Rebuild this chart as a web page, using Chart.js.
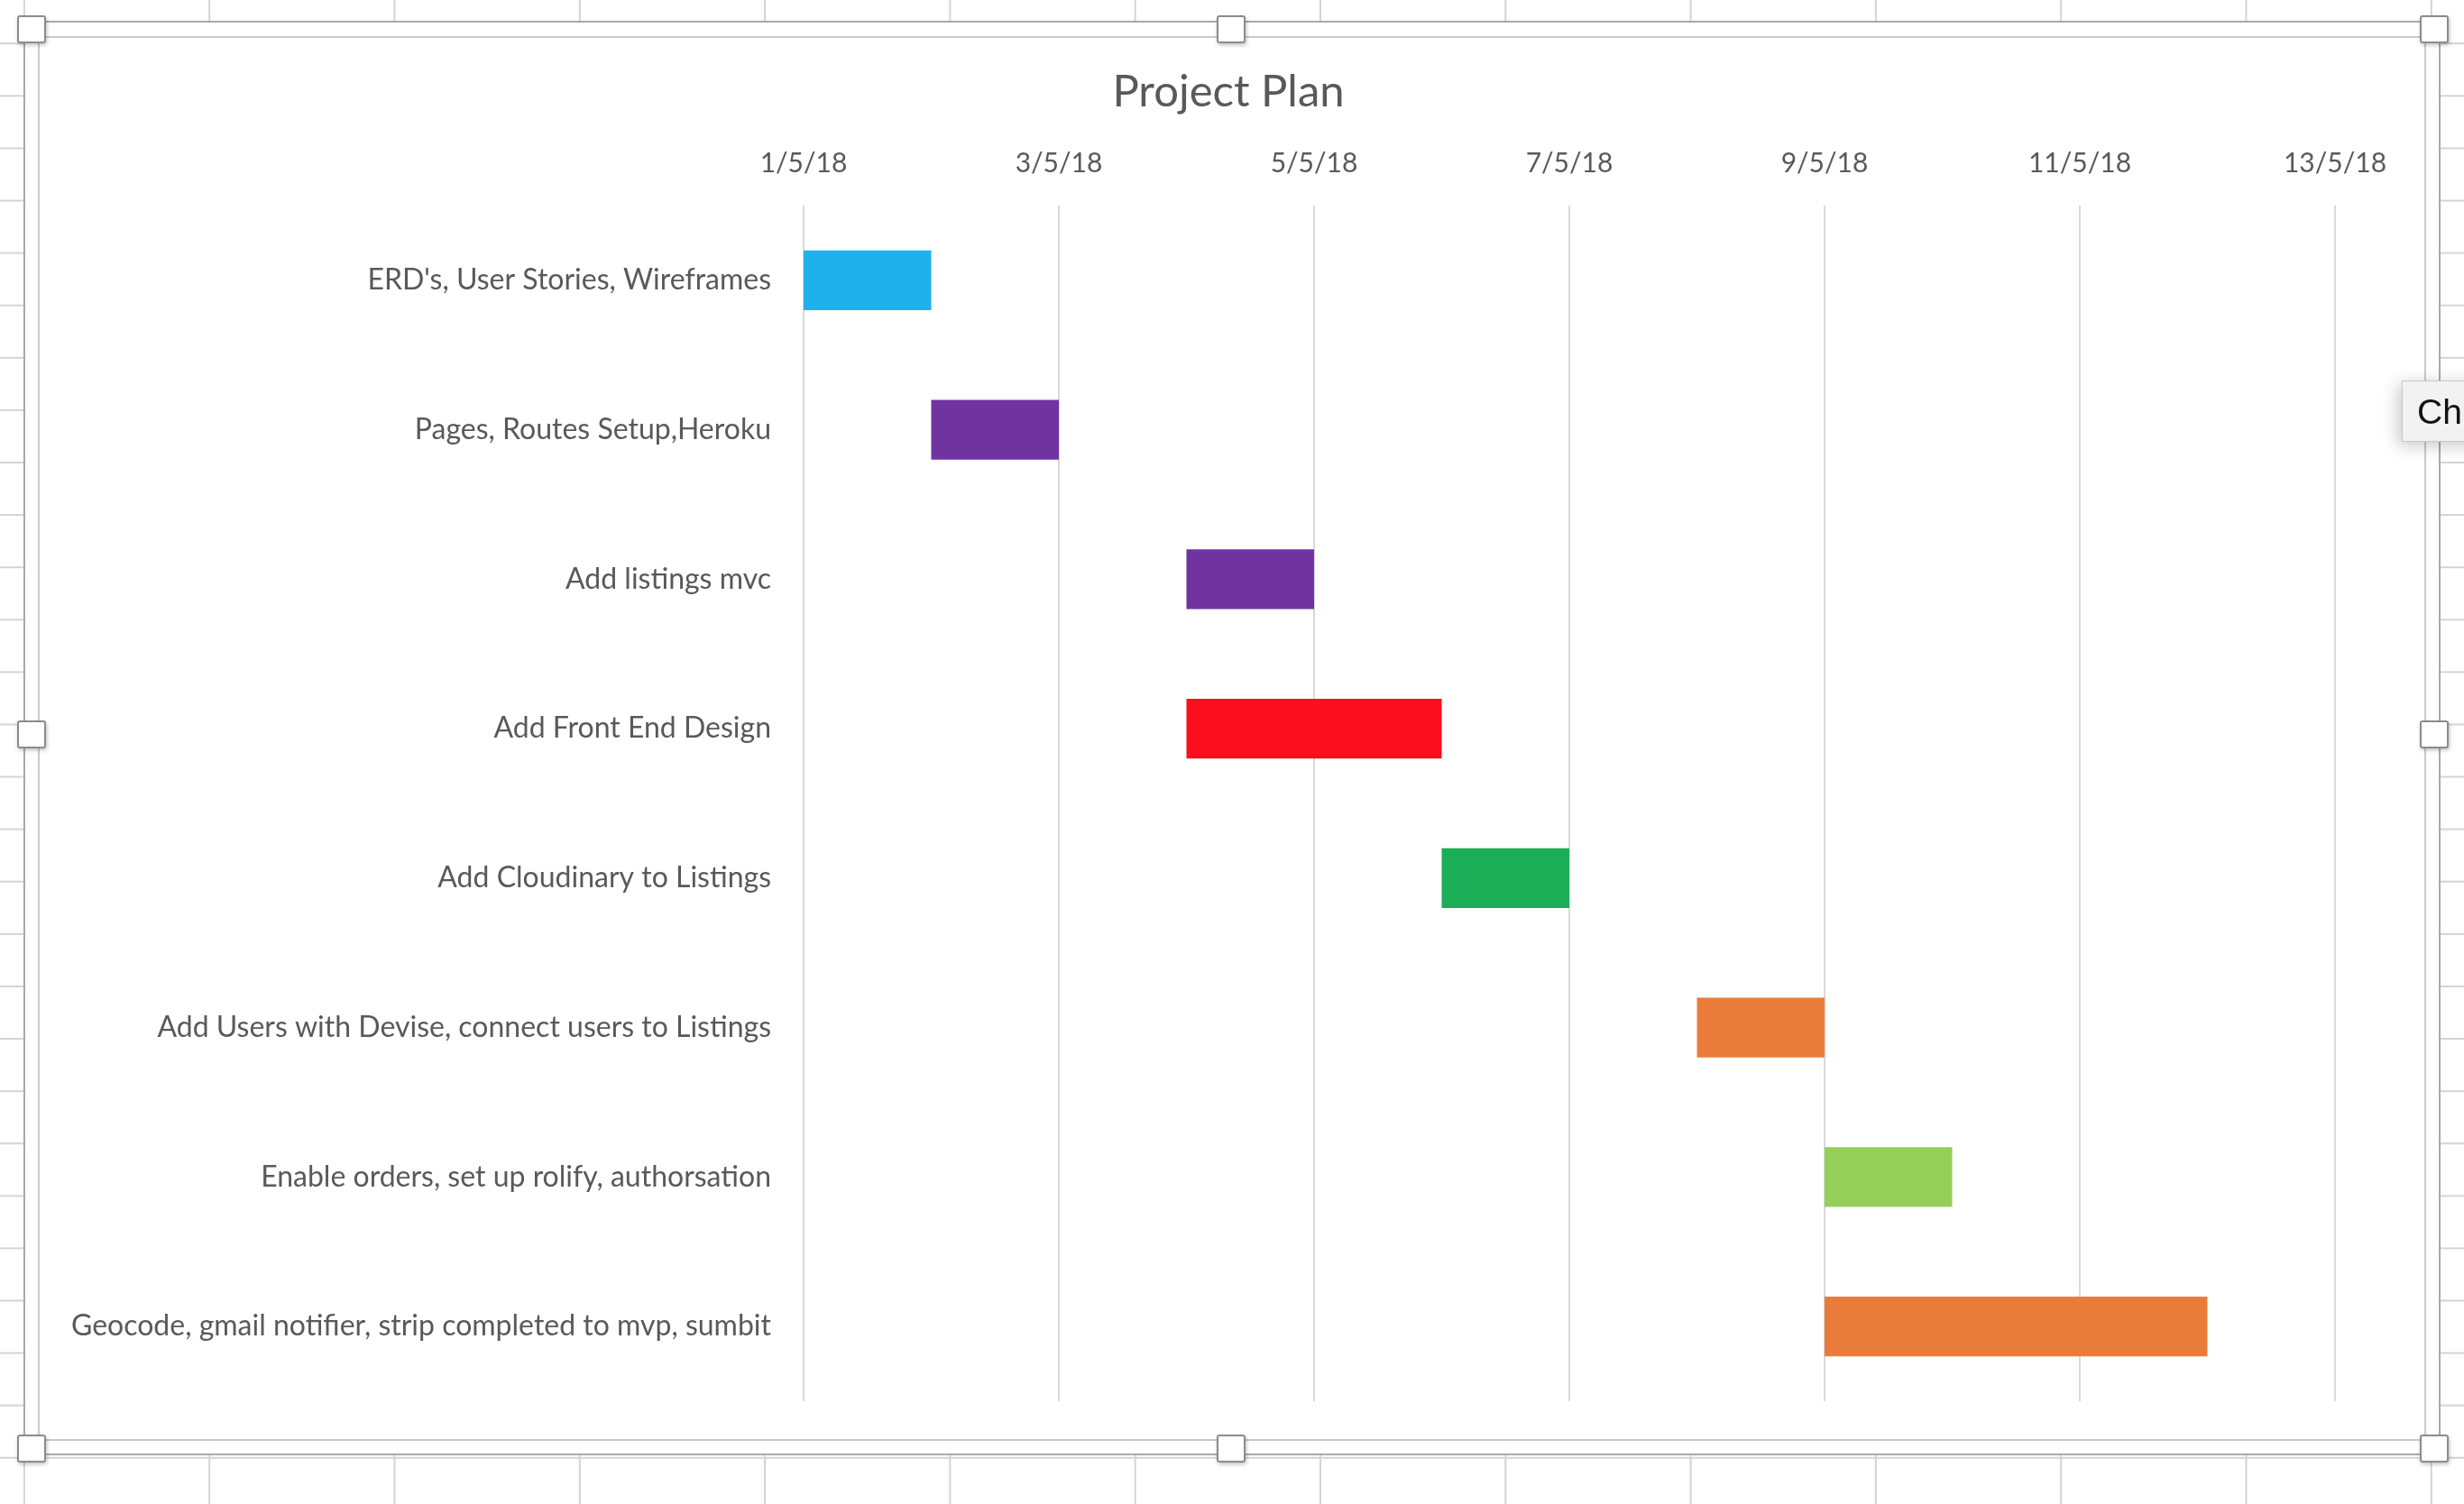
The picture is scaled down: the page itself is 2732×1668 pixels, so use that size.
<!DOCTYPE html>
<html>
<head>
<meta charset="utf-8">
<script src="https://cdn.jsdelivr.net/npm/chart.js@4/dist/chart.umd.min.js"></script>
<style>
  html, body { margin: 0; padding: 0; background: #ffffff; }
  body { width: 2732px; height: 1668px; position: relative; overflow: hidden; }
  #sheet {
    position: absolute; left: 0; top: 0; width: 2732px; height: 1668px;
    background-image:
      repeating-linear-gradient(to right, transparent 0, transparent 26px, #d4d4d4 26px, #d4d4d4 28px, transparent 28px, transparent 205.3px),
      repeating-linear-gradient(to bottom, transparent 0, transparent 47px, #d4d4d4 47px, #d4d4d4 49px, transparent 49px, transparent 58.1px);
    background-size: 205.3px 100%, 100% 58.1px;
    background-position: 0 0, 0 0;
  }
  #frame {
    position: absolute; left: 26px; top: 23px; width: 2676px; height: 1587px;
    border: 2px solid #a9a9a9; background: #ffffff;
  }
  #inner {
    position: absolute; left: 42px; top: 40px; width: 2644px; height: 1554px;
    border: 2px solid #c9c9c9; background: #ffffff;
  }
  #chartBox { position: absolute; left: 44px; top: 42px; width: 2644px; height: 1554px; }
  .handle {
    position: absolute; width: 28px; height: 27px; background: #ffffff;
    border: 2px solid #8c8c8c; border-radius: 3px;
    box-shadow: 1px 2px 4px rgba(0,0,0,0.25);
  }
  #tip {
    position: absolute; left: 2663px; top: 422px; width: 120px; height: 68px;
    background: #f2f2f2; border: 1px solid #c8c8c8;
    box-shadow: -4px 4px 18px rgba(0,0,0,0.22);
    font-family: "Liberation Sans", Arial, sans-serif; font-size: 39px; color: #111;
    line-height: 68px; padding-left: 16px; box-sizing: border-box;
  }
</style>
</head>
<body>
<div id="sheet"></div>
<div id="frame"></div>
<div id="inner"></div>
<div id="chartBox"><canvas id="c" width="2644" height="1554"></canvas></div>
<div class="handle" style="left:19px; top:17px;"></div>
<div class="handle" style="left:1349px; top:17px;"></div>
<div class="handle" style="left:2683px; top:17px;"></div>
<div class="handle" style="left:19px; top:799px;"></div>
<div class="handle" style="left:2683px; top:799px;"></div>
<div class="handle" style="left:19px; top:1591px;"></div>
<div class="handle" style="left:1349px; top:1591px;"></div>
<div class="handle" style="left:2683px; top:1591px;"></div>
<div id="tip">Ch</div>
<script>
const chartTitle = 'Project Plan';
const tasks = [
  "ERD's, User Stories, Wireframes",
  "Pages, Routes Setup,Heroku",
  "Add listings mvc",
  "Add Front End Design",
  "Add Cloudinary to Listings",
  "Add Users with Devise, connect users to Listings",
  "Enable orders, set up rolify, authorsation",
  "Geocode, gmail notifier, strip completed to mvp, sumbit"
];
// day of May 2018
const startDays = [1, 2, 4, 4, 6, 8, 9, 9];
const endDays   = [2, 3, 5, 6, 7, 9, 10, 12];
const barColors = ['#1fb1ec', '#7033a0', '#7033a0', '#fb0f1f', '#1bae56', '#e97c3b', '#96ce5a', '#e97c3b'];
const tickDays   = [1, 3, 5, 7, 9, 11, 13];
const tickLabels = ['1/5/18', '3/5/18', '5/5/18', '7/5/18', '9/5/18', '11/5/18', '13/5/18'];

const FONT = 'Lato, "Open Sans", sans-serif';
const TEXT = '#595959';

new Chart(document.getElementById('c'), {
  type: 'bar',
  data: {
    labels: tasks,
    datasets: [{
      data: tasks.map((t, i) => [startDays[i], endDays[i]]),
      backgroundColor: barColors,
      borderWidth: 0,
      borderSkipped: false,
      barPercentage: 0.4,
      categoryPercentage: 1.0
    }]
  },
  options: {
    indexAxis: 'y',
    responsive: false,
    animation: false,
    layout: { padding: { left: 0, right: 8, top: 0, bottom: 42 } },
    plugins: {
      legend: { display: false },
      tooltip: { enabled: false },
      title: {
        display: true,
        text: chartTitle,
        color: TEXT,
        font: { family: FONT, size: 49, weight: 'normal', lineHeight: 1 },
        padding: { top: 36, bottom: 12 }
      }
    },
    scales: {
      x: {
        type: 'linear',
        position: 'top',
        min: 1,
        max: 13,
        afterBuildTicks: (scale) => { scale.ticks = tickDays.map(v => ({ value: v })); },
        afterFit: (scale) => { scale.height = 89; scale.paddingLeft = 0; scale.paddingRight = 99; },
        ticks: {
          autoSkip: false,
          maxRotation: 0,
          padding: 29,
          color: TEXT,
          font: { family: FONT, size: 30, lineHeight: 1.2 },
          callback: (v) => { const i = tickDays.indexOf(v); return i >= 0 ? tickLabels[i] : ''; }
        },
        grid: { color: '#d9d9d9', lineWidth: 2, drawTicks: false },
        border: { display: false }
      },
      y: {
        afterFit: (scale) => { scale.width = 847; scale.paddingTop = 0; scale.paddingBottom = 0; },
        ticks: {
          padding: 36,
          color: TEXT,
          font: { family: FONT, size: 32 }
        },
        grid: { display: false, drawTicks: false },
        border: { display: false }
      }
    }
  }
});
</script>
</body>
</html>
